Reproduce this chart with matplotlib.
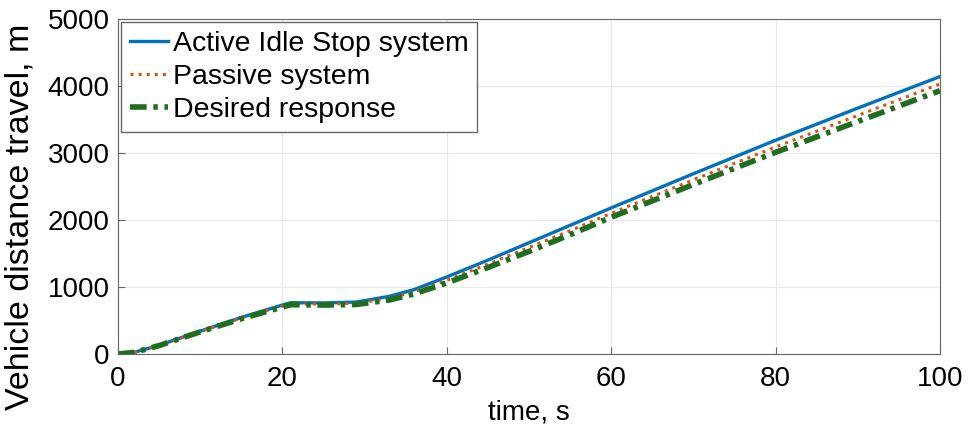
import matplotlib
matplotlib.use('Agg')
import matplotlib.pyplot as plt

plt.rcParams['font.family'] = ['Liberation Sans', 'DejaVu Sans']

# time, s
t = [0, 2, 5, 10, 15, 20, 21, 25, 29, 33, 36, 40, 45, 50, 55, 60, 70, 80, 90, 100]
# distance, m
active = [0, 25, 130, 340, 545, 730, 765, 762, 775, 860, 960, 1150, 1400, 1660, 1920, 2180, 2690, 3190, 3670, 4140]
passive = [0, 25, 128, 335, 535, 715, 748, 745, 755, 830, 925, 1100, 1340, 1590, 1840, 2100, 2600, 3090, 3560, 4030]
desired = [0, 24, 125, 330, 525, 700, 735, 730, 738, 805, 895, 1060, 1290, 1530, 1780, 2040, 2530, 3010, 3470, 3930]

fig = plt.figure(figsize=(9.7, 4.37), dpi=100)
ax = fig.add_axes([0.1216, 0.19, 0.8474, 0.7665])

ax.plot(t, active, color='#0072BD', lw=2.4, label='Active Idle Stop system')
ax.plot(t, passive, color='#D95319', lw=2.2, ls=':', label='Passive system')
ax.plot(t, desired, color='#1E6E1E', lw=4, dashes=(3, 1.2, 0.8, 1.2), label='Desired response')

ax.set_xlim(0, 100)
ax.set_ylim(0, 5000)
ax.set_xticks([0, 20, 40, 60, 80, 100])
ax.set_yticks([0, 1000, 2000, 3000, 4000, 5000])
ax.grid(True, color='#e8e8e8', lw=0.8)
ax.tick_params(labelsize=20, direction='in', length=5, color='#666666', pad=6)
ax.tick_params(axis='x', pad=9)
for s in ax.spines.values():
    s.set_color('#666666')

ax.set_xlabel('time, s', fontsize=20, labelpad=5)
ax.set_ylabel('Vehicle distance travel, m', fontsize=24.5)
ax.yaxis.set_label_coords(-0.1, 0.41)

leg = ax.legend(loc='upper left', fontsize=20.5, handlelength=1.35, handletextpad=0.15,
                borderaxespad=0.12, borderpad=0.3, labelspacing=0.25, fancybox=False,
                edgecolor='#666666', framealpha=1)

fig.savefig('out.png', dpi=100)
